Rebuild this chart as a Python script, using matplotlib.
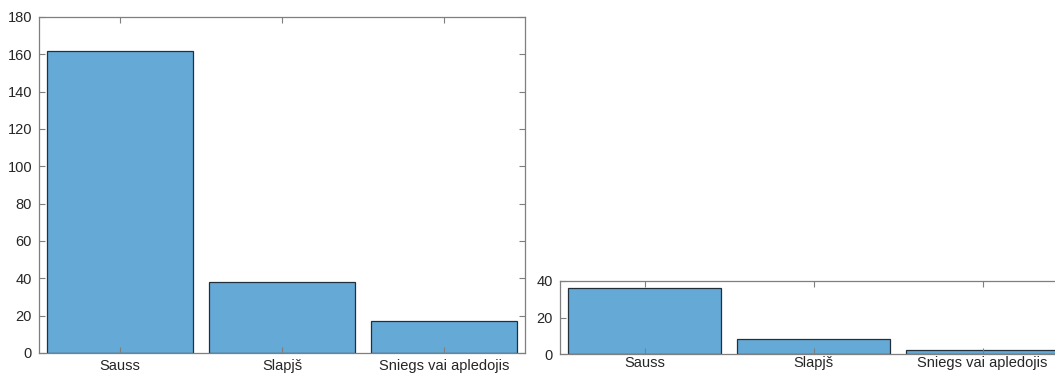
import matplotlib
matplotlib.use("Agg")
from matplotlib import pyplot as plt
from matplotlib.ticker import MultipleLocator

# Road surface condition counts, two data sets
categories = ["Sauss", "Slapjš", "Sniegs vai apledojis"]
countsLeft = [162, 38, 17]
countsRight = [36, 8, 2]

barColor = "#65a9d7"
edgeColor = "#22303c"
spineColor = "#7f7f7f"
textColor = "#262626"

plt.rcParams["font.family"] = ["Liberation Sans", "DejaVu Sans"]
plt.rcParams["font.size"] = 10.5

W, H = 1055, 373
figure = plt.figure(figsize=(W / 100, H / 100), dpi=100)


def px_axes(left, top, right, bottom):
    return figure.add_axes([left / W, (H - bottom) / H, (right - left) / W, (bottom - top) / H])


def style_axis(axis, ymax, ystep, xpad):
    positions = list(range(1, len(categories) + 1))
    axis.set_xlim(0.5, len(categories) + 0.5)
    axis.set_ylim(0, ymax)
    axis.set_xticks(positions)
    axis.set_xticklabels(categories)
    axis.yaxis.set_major_locator(MultipleLocator(ystep))
    axis.tick_params(direction="in", top=True, right=True, length=4, width=0.8,
                     colors=spineColor, labelcolor=textColor, labelsize=10.5)
    axis.tick_params(axis="x", pad=xpad)
    axis.tick_params(axis="y", pad=5)
    for spine in axis.spines.values():
        spine.set_color(spineColor)
        spine.set_linewidth(0.9)


# Left chart
axisLeft = px_axes(39, 17, 525, 353)
axisLeft.bar(range(1, len(categories) + 1), countsLeft, width=0.9,
             color=barColor, edgecolor=edgeColor, linewidth=0.9)
style_axis(axisLeft, 180, 20, 4)

# Right chart (cut off at the right edge of the picture)
axisRight = px_axes(560, 281, 1067, 354)
axisRight.bar(range(1, len(categories) + 1), countsRight, width=0.9,
              color=barColor, edgecolor=edgeColor, linewidth=0.9)
style_axis(axisRight, 40, 20, 1.5)

figure.savefig("out.png", dpi=100)
